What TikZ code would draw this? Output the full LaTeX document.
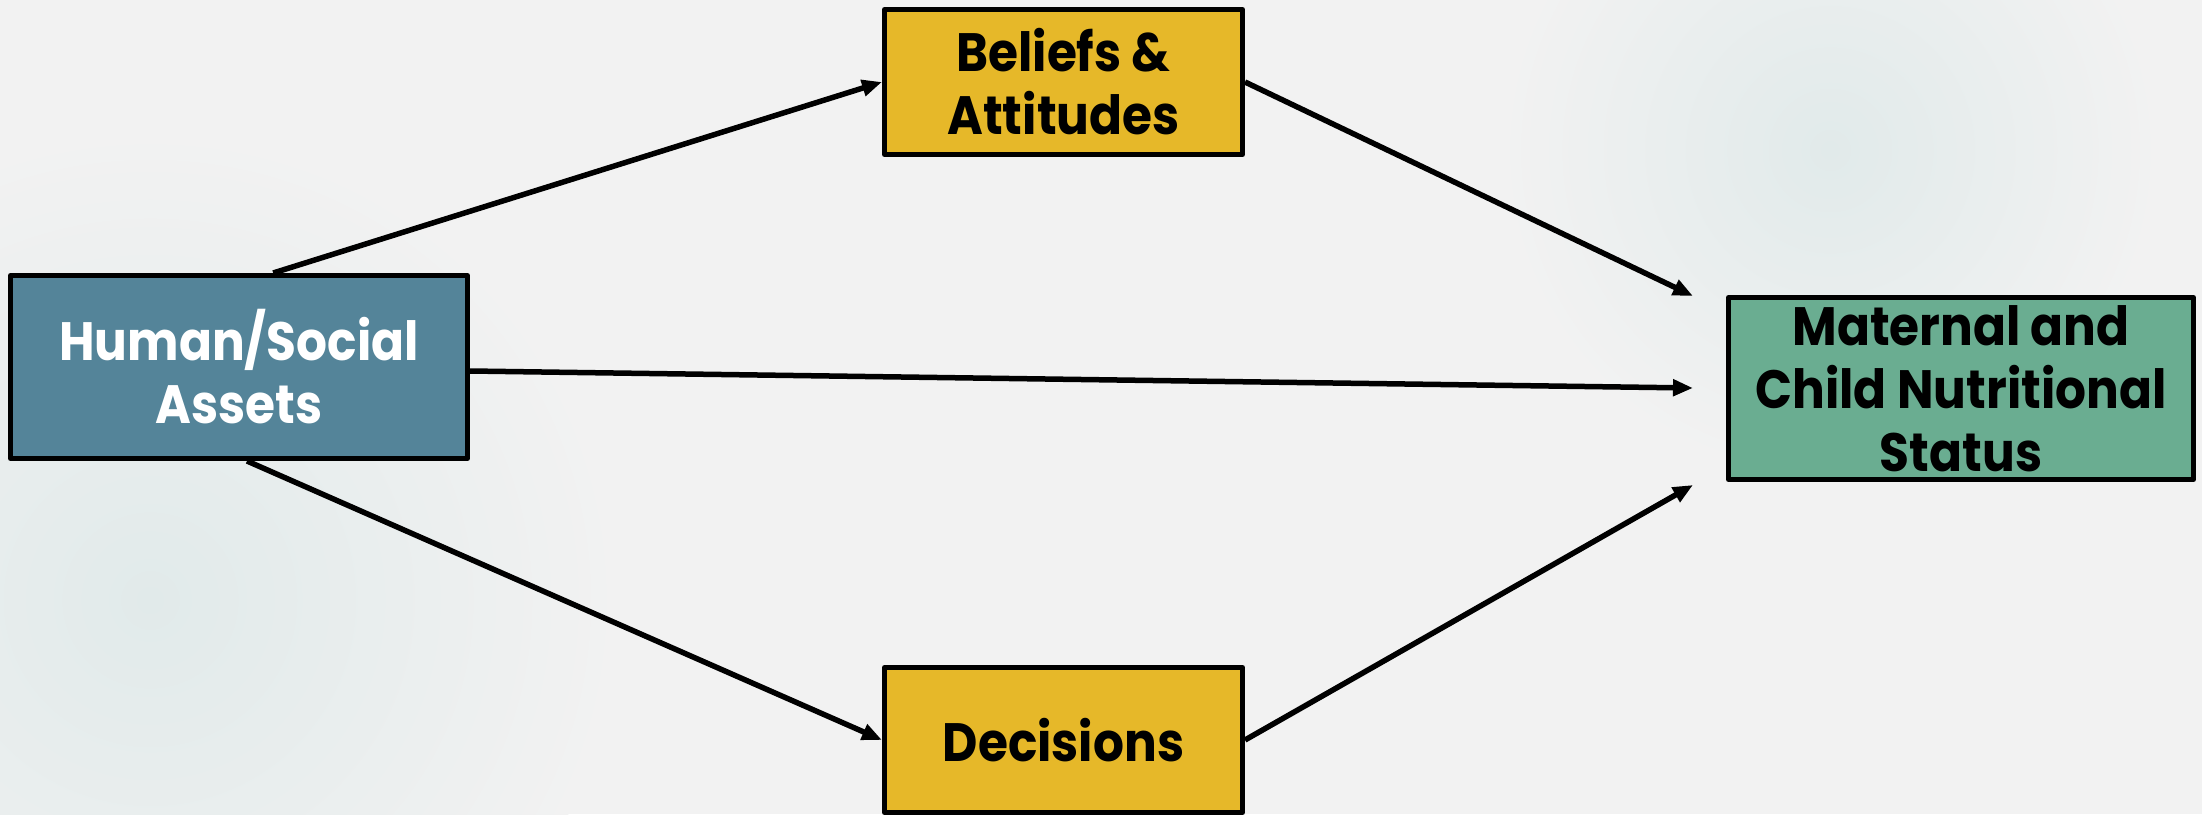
\documentclass[tikz,border=0pt]{standalone}
\usepackage{fontspec}
\newfontfamily\gothic{Poppins}[FakeStretch=0.9]
\usetikzlibrary{arrows.meta,calc}
\definecolor{bgc}{HTML}{F2F2F2}
\definecolor{glow}{HTML}{E1EAEA}
\definecolor{humc}{HTML}{548499}
\definecolor{belc}{HTML}{E6B829}
\definecolor{matc}{HTML}{6AAD91}
\tikzset{
  box/.style={draw=black, line width=5pt, line join=round, inner sep=0pt,
    align=center, font=\gothic\bfseries\fontsize{54}{63}\selectfont},
  conn/.style={line width=5.5pt, -{Triangle[length=20pt,width=16pt]}}
}
\begin{document}
\begin{tikzpicture}[x=1pt,y=1pt]
\useasboundingbox (0,0) rectangle (2202,-814);
\fill[bgc] (0,0) rectangle (2202,-814);
\begin{scope}
\clip (0,0) rectangle (2202,-814);
\shade[inner color=glow, outer color=bgc] (150,-600) circle (470);
\shade[inner color=glow, outer color=bgc] (1830,-150) circle (330);
\end{scope}
\node[box, fill=humc, text=white, minimum width=457pt, minimum height=183pt] (hum) at (239,-367) {Human/Social\\Assets};
\node[box, fill=belc, minimum width=358pt, minimum height=145pt] (bel) at (1063.5,-82) {Beliefs \&\\Attitudes};
\node[box, fill=belc, minimum width=358pt, minimum height=145pt] (dec) at (1063.5,-740) {Decisions};
\node[box, fill=matc, minimum width=465pt, minimum height=182pt] (mat) at (1961,-388.5) {Maternal and\\Child Nutritional\\Status};
\coordinate (t1) at (1693,-296);
\coordinate (t2) at (1693,-388);
\coordinate (t3) at (1693,-485);
\draw[conn] ($(hum.north west)!0.574!(hum.north east)$) -- (bel.west);
\draw[conn] (bel.east) -- (t1);
\draw[conn] ($(hum.east)+(0,-4)$) -- (t2);
\draw[conn] ($(hum.south)+(8,0)$) -- (dec.west);
\draw[conn] (dec.east) -- (t3);
\end{tikzpicture}
\end{document}
